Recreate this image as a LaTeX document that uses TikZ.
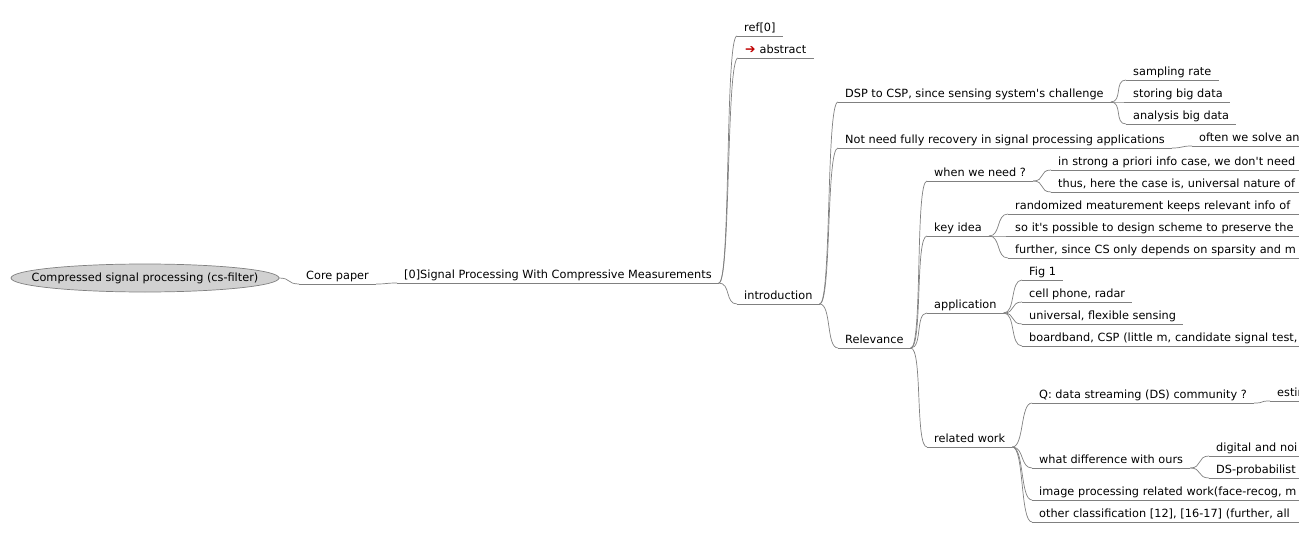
\documentclass[tikz,border=0pt]{standalone}
\usepackage{fontspec}
\setmainfont{DejaVu Sans}
\tikzset{
  topic/.style={anchor=south west, inner xsep=7pt, inner ysep=2pt, text height=8.5pt, text depth=2.5pt, font=\fontsize{11.3}{14}\selectfont},
  cut/.style={text width=300pt, align=left},
  uline/.style={draw=black!50, line width=0.7pt},
  link/.style={draw=black!50, line width=0.7pt, to path={.. controls +(12,0) and +(-12,0) .. (\tikztotarget)}},
}
\newcommand{\q}{\textquotesingle}
\begin{document}
\begin{tikzpicture}[x=1pt,y=-1pt]
  \useasboundingbox (0,0) rectangle (1299,559);
  \clip (0,0) rectangle (1299,559);

  % root
  \draw[draw=black!50, fill=black!18, line width=0.7pt] (145,278) ellipse [x radius=134, y radius=14];
  \node[font=\fontsize{11.3}{14}\selectfont] (root) at (145,278) {Compressed signal processing (cs-filter)};
  \coordinate (rootend) at (279,278);

  \node[topic] (core) at (299,284) {Core paper};
  \node[topic] (paper) at (397,283) {[0]Signal Processing With Compressive Measurements};
  \node[topic] (ref) at (737,36) {ref[0]};
  \node[topic] (abstract) at (738,58) {{\color{red!75!black}\fontsize{12.5}{10}\selectfont\bfseries ➔}\hspace{4pt}abstract};
  \node[topic] (intro) at (737,304) {introduction};

  % introduction
  \node[topic] (dsp) at (838,102) {DSP to CSP, since sensing system\q s challenge};
  \node[topic] (rate) at (1126,80) {sampling rate};
  \node[topic] (store) at (1126,102) {storing big data};
  \node[topic] (analysis) at (1126,124) {analysis big data};
  \node[topic] (notneed) at (838,148) {Not need fully recovery in signal processing applications};
  \node[topic,cut] (solve) at (1192,146) {often we solve an};
  \node[topic] (relev) at (838,348) {Relevance};

  % relevance
  \node[topic] (when) at (927,181) {when we need ?};
  \node[topic,cut] (prior) at (1051,170) {in strong a priori info case, we don\q t need};
  \node[topic,cut] (thus) at (1051,192) {thus, here the case is, universal nature of};
  \node[topic] (key) at (927,236) {key idea};
  \node[topic,cut] (random) at (1008,214) {randomized meaturement keeps relevant info of};
  \node[topic,cut] (design) at (1008,236) {so it\q s possible to design scheme to preserve the};
  \node[topic,cut] (further) at (1008,258) {further, since CS only depends on sparsity and m};
  \node[topic] (app) at (927,313) {application};
  \node[topic] (fig) at (1022,280) {Fig 1};
  \node[topic] (phone) at (1022,302) {cell phone, radar};
  \node[topic] (flex) at (1022,324) {universal, flexible sensing};
  \node[topic,cut] (broad) at (1022,346) {boardband, CSP (little m, candidate signal test,};
  \node[topic] (related) at (927,447) {related work};
  \node[topic] (stream) at (1032,403) {Q: data streaming (DS) community ?};
  \node[topic,cut] (estim) at (1270,401) {estim};
  \node[topic] (diff) at (1032,468) {what difference with ours};
  \node[topic,cut] (digital) at (1209,456) {digital and noi};
  \node[topic,cut] (prob) at (1209,478) {DS-probabilist};
  \node[topic,cut] (image) at (1032,500) {image processing related work(face-recog, m};
  \node[topic,cut] (other) at (1032,522) {other classification [12], [16-17] (further, all};

  % underlines
  \foreach \n in {core,paper,ref,abstract,intro,dsp,rate,store,analysis,notneed,solve,relev,
    when,prior,thus,key,random,design,further,app,fig,phone,flex,broad,
    related,stream,estim,diff,digital,prob,image,other}
    \draw[uline] (\n.south west) -- (\n.south east);

  % links
  \draw[link] (rootend) to (core.south west);
  \foreach \a/\b in {core/paper,paper/ref,paper/abstract,paper/intro,
    intro/dsp,intro/notneed,intro/relev,dsp/rate,dsp/store,dsp/analysis,notneed/solve,
    relev/when,relev/key,relev/app,relev/related,when/prior,when/thus,
    key/random,key/design,key/further,app/fig,app/phone,app/flex,app/broad,
    related/stream,related/diff,related/image,related/other,stream/estim,diff/digital,diff/prob}
    \draw[link] (\a.south east) to (\b.south west);
\end{tikzpicture}
\end{document}
